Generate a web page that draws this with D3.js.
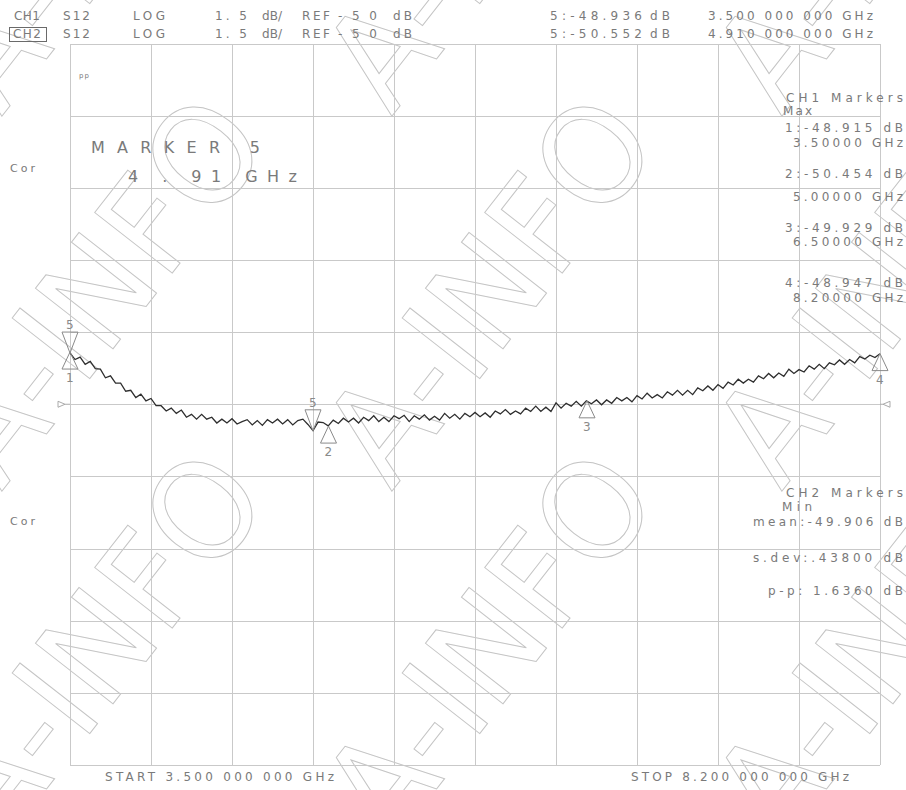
<!DOCTYPE html>
<html><head><meta charset="utf-8">
<script src="https://cdn.jsdelivr.net/npm/d3@7"></script>
<style>body{margin:0;background:#fff}svg{display:block}</style>
</head><body><svg id="c" width="906" height="790"></svg>
<script>
// ---------- data ----------
const startGHz = 3.5, stopGHz = 8.2;
const refDb = -50, dbPerDiv = 1.5, divisions = 10;
const traceDb = [
-48.93,-49.07,-49.02,-49.17,-49.11,-49.26,-49.27,-49.45,-49.41,-49.56,
-49.56,-49.73,-49.71,-49.86,-49.79,-49.93,-49.88,-50.03,-50.03,-50.14,
-50.08,-50.19,-50.12,-50.27,-50.21,-50.31,-50.21,-50.31,-50.27,-50.39,
-50.31,-50.39,-50.30,-50.41,-50.36,-50.32,-50.43,-50.34,-50.44,-50.32,
-50.39,-50.31,-50.41,-50.32,-50.43,-50.34,-50.31,-50.42,-50.55,-50.37,
-50.38,-50.45,-50.33,-50.40,-50.29,-50.37,-50.29,-50.39,-50.27,-50.34,
-50.24,-50.36,-50.27,-50.36,-50.24,-50.30,-50.23,-50.36,-50.24,-50.31,
-50.22,-50.33,-50.25,-50.33,-50.19,-50.29,-50.21,-50.31,-50.19,-50.26,
-50.17,-50.26,-50.18,-50.27,-50.14,-50.20,-50.11,-50.21,-50.14,-50.20,
-50.08,-50.15,-50.04,-50.15,-50.06,-50.15,-49.97,-50.08,-49.98,-50.04,
-49.94,-50.04,-49.93,-49.99,-49.91,-50.01,-49.91,-49.98,-49.86,-49.93,
-49.86,-49.95,-49.82,-49.89,-49.77,-49.87,-49.80,-49.87,-49.74,-49.81,
-49.71,-49.81,-49.71,-49.80,-49.66,-49.72,-49.62,-49.71,-49.59,-49.67,
-49.54,-49.60,-49.48,-49.56,-49.48,-49.54,-49.41,-49.47,-49.36,-49.45,
-49.35,-49.42,-49.27,-49.36,-49.28,-49.33,-49.20,-49.27,-49.17,-49.26,
-49.14,-49.18,-49.08,-49.17,-49.07,-49.14,-49.01,-49.06,-48.98,-49.03,
-48.95];
const markerIds   = [1, 2, 3, 4];
const markerGHz   = [3.5, 5.0, 6.5, 8.2];
const markerDb    = [-48.915, -50.454, -49.929, -48.947];
const marker5Ch1  = {ghz: 3.5,  db: -48.936};
const marker5Ch2  = {ghz: 4.91, db: -50.552};
const statLabels  = ["mean:", "s.dev:", "p-p:"];
const statValues  = ["-49.906", ".43800", "1.6360"];

// ---------- setup ----------
const svg = d3.select("#c");
const L = 70, R = 880, T = 43.5, B = 765;
const x = d3.scaleLinear([startGHz, stopGHz], [L, R]);
const y = d3.scaleLinear([refDb - dbPerDiv*divisions/2, refDb + dbPerDiv*divisions/2], [B, T]);
const GRID = "#c9c9c9", TXT = "#7a7a7a", FONT = "DejaVu Sans";

// watermark
const wmCols = [100, 490, 880], wmRows = [-85, 290, 645];
const wmCenters = wmRows.flatMap(r => wmCols.map(c => [c, r]));
svg.append("g").selectAll("text").data(wmCenters).join("text")
  .attr("transform", d => `translate(${d[0]},${d[1]}) rotate(-52)`)
  .attr("text-anchor","middle").attr("dominant-baseline","central")
  .attr("font-family", FONT).attr("font-size", 135)
  .attr("textLength", 440).attr("lengthAdjust","spacingAndGlyphs")
  .attr("fill","none").attr("stroke","#c4c4c4").attr("stroke-width",1)
  .text("A-INFO");

// grid
const xTicks = d3.range(divisions+1).map(i => startGHz + i*(stopGHz-startGHz)/divisions);
const yTicks = d3.range(divisions+1).map(i => y.domain()[0] + i*dbPerDiv);
const gx = svg.append("g").attr("transform",`translate(0,${B})`)
  .call(d3.axisBottom(x).tickValues(xTicks).tickSize(-(B-T)).tickFormat(""));
const gy = svg.append("g").attr("transform",`translate(${L},0)`)
  .call(d3.axisLeft(y).tickValues(yTicks).tickSize(-(R-L)).tickFormat(""));
[gx,gy].forEach(g => { g.select(".domain").remove();
  g.selectAll("line").attr("stroke",GRID).attr("stroke-width",1).attr("shape-rendering","crispEdges"); });

// text helper
function txt(xp, yp, s, len, size, anchor) {
  const t = svg.append("text").attr("x",xp).attr("y",yp).attr("font-family",FONT)
    .attr("font-size",size||12).attr("fill",TXT).text(s);
  if (len) t.attr("textLength",len).attr("lengthAdjust","spacing");
  if (anchor) t.attr("text-anchor",anchor);
  return t;
}
const f3 = d3.format(".3f");

// header
txt(14,20,"CH1",26); txt(63,20,"S12",27); txt(133,20,"LOG",32);
txt(13,38,"CH2",28); txt(63,38,"S12",27); txt(133,38,"LOG",32);
svg.append("rect").attr("x",9.5).attr("y",27.5).attr("width",37).attr("height",14)
  .attr("fill","none").attr("stroke","#6a6a6a");
[20,38].forEach(yy => {
  txt(215,yy,`1. ${String(dbPerDiv).split(".")[1]}`,32);
  txt(262,yy,"dB/",20); txt(302,yy,"REF",28); txt(338,yy,`-${Math.abs(refDb)}`.split("").join(" "),39); txt(393,yy,"dB",19);
});
txt(550,20,`5:-${f3(Math.abs(marker5Ch1.db))}`,92); txt(650,20,"dB",20);
txt(708,20,`${d3.format(".3f")(marker5Ch1.ghz)} 000 000 GHz`,165);
txt(550,38,`5:-${f3(Math.abs(marker5Ch2.db))}`,92); txt(650,38,"dB",20);
txt(708,38,`${d3.format(".3f")(marker5Ch2.ghz)} 000 000 GHz`,165);

// left side
txt(10,172,"Cor",25,11); txt(10,525,"Cor",25,11);
txt(79,78,"pp",10,7);
txt(91,153,"MARKER 5",169,16);
txt(128,182,`${String(marker5Ch2.ghz).split(".")[0]} . ${String(marker5Ch2.ghz).split(".")[1]}  GHz`,169,16);

// right panel CH1
txt(786,102,"CH1 Markers",117); txt(783,115,"Max",29);
const mBase = [132,178,232,287], fBase = [147,201,246,302];
markerIds.forEach((id,i) => {
  txt(785,mBase[i],`${id}:-${f3(Math.abs(markerDb[i]))} dB`,118);
  txt(793,fBase[i],`${d3.format(".5f")(markerGHz[i])} GHz`,110);
});
// right panel CH2
txt(786,497,"CH2 Markers",117); txt(782,511,"Min",30);
txt(753,526,`${statLabels[0]}${statValues[0]} dB`,150);
txt(753,562,`${statLabels[1]}${statValues[1]} dB`,150);
txt(768,595,`${statLabels[2]} ${statValues[2]} dB`,135);

// bottom
txt(105,781,`START ${d3.format(".3f")(startGHz)} 000 000 GHz`,229);
txt(631,781,`STOP ${d3.format(".3f")(stopGHz)} 000 000 GHz`,218);

// reference position arrows
const ry = y(refDb);
svg.append("path").attr("d",`M58,${ry-3}L58,${ry+3}L65,${ry}Z M65,${ry}L70,${ry}`)
  .attr("fill","none").attr("stroke","#aaa");
svg.append("path").attr("d",`M890,${ry-3}L890,${ry+3}L883,${ry}Z M883,${ry}L880,${ry}`)
  .attr("fill","none").attr("stroke","#aaa");

// trace
const n = traceDb.length;
const freq = i => startGHz + i*(stopGHz-startGHz)/(n-1);
svg.append("path").datum(traceDb)
  .attr("d", d3.line().x((d,i)=>x(freq(i))).y(d=>y(d)))
  .attr("fill","none").attr("stroke","#2e2e2e").attr("stroke-width",1.3);

// markers
const MK = "#8a8a8a";
function upTri(f, db, label){
  const px = x(f), py = y(db);
  svg.append("path").attr("d",`M${px},${py}L${px-8},${py+17}L${px+8},${py+17}Z`)
    .attr("fill","none").attr("stroke",MK);
  txt(px-4, py+30, label, null, 12).attr("fill",MK);
}
function downTri(f, db, label){
  const px = x(f), py = y(db);
  svg.append("path").attr("d",`M${px},${py}L${px-8},${py-21}L${px+8},${py-21}Z`)
    .attr("fill","none").attr("stroke",MK);
  txt(px-4, py-24, label, null, 12).attr("fill",MK);
}
markerIds.forEach((id,i) => upTri(markerGHz[i], markerDb[i], String(id)));
downTri(marker5Ch1.ghz, marker5Ch1.db, "5");
downTri(marker5Ch2.ghz, marker5Ch2.db, "5");
</script></body></html>
